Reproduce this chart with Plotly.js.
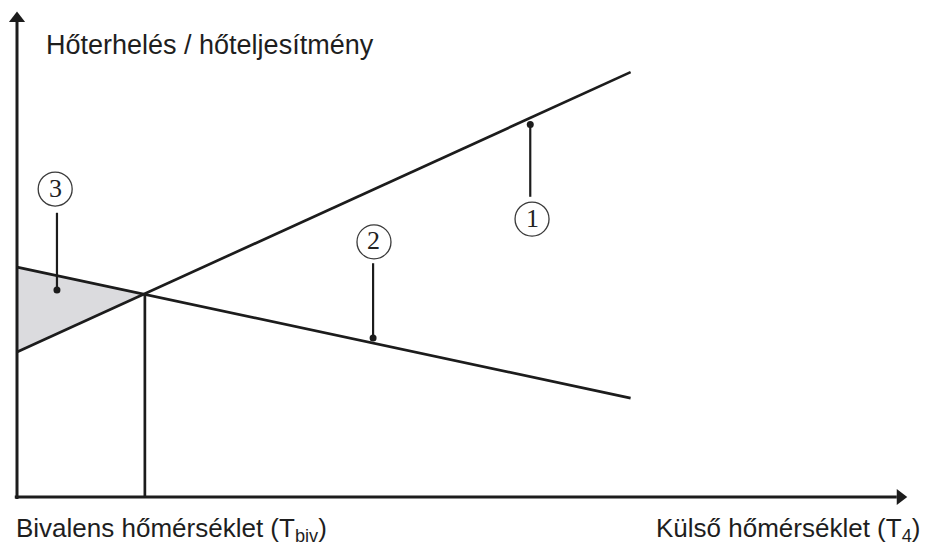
<!DOCTYPE html>
<html>
<head>
<meta charset="utf-8">
<script src="https://cdn.plot.ly/plotly-3.0.1.min.js"></script>
<style>html,body{margin:0;padding:0;background:#fff;}#chart{width:926px;height:549px;}</style>
</head>
<body>
<div id="chart"></div>
<script>
// ---- data (relative units: outdoor temperature on x, heat on y) ----
const lineX = [0, 69.1];              // outdoor temperature range of the two lines
const heatLoad = [29.9, 87.6];        // line 1
const heatPump = [47.4, 20.4];        // line 2
const biv = [14.4, 42.0];             // bivalent point (T_biv, heat)
const areaX = [0, 0, 14.4];           // region 3 (shaded triangle)
const areaY = [29.9, 47.4, 42.0];
const labelText = ['1', '2', '3'];
const labelDotX = [57.8, 40.1, 4.5];
const labelDotY = [76.8, 32.8, 42.7];
const labelEndY = [61.9, 48.2, 58.6];
const labelCircleX = [58.0, 40.2, 4.3];
const labelCircleY = [57.3, 52.6, 63.5];
const axisMax = [100.2, 100.0];        // arrow tips (x, y)
const yTitle = 'Hőterhelés / hőteljesítmény';
const xTitleLeft = 'Bivalens hőmérséklet (T<sub>biv</sub>)';
const xTitleRight = 'Külső hőmérséklet (T<sub>4</sub>)';

// ---- layout constants ----
const W = 926, H = 549, X0PX = 17, Y0PX = 497, SX = 8.88, SY = 4.85;
const INK = '#1c1c1c';
const SANS = 'Liberation Sans, Arial, sans-serif';
const SERIF = 'Liberation Serif, Times New Roman, serif';
const HEAD = 6.5; // arrow head length in px

const traces = [];
traces.push({x: areaX, y: areaY, mode: 'lines', fill: 'toself', fillcolor: '#dbdbde',
  line: {width: 0, color: 'rgba(0,0,0,0)'}, hoverinfo: 'skip'});
// axes with arrow heads
traces.push({x: [-0.25, axisMax[0] - 10 / SX], y: [0, 0], mode: 'lines', line: {color: INK, width: 3}});
traces.push({x: [0, 0], y: [-0.4, axisMax[1] - 10 / SY], mode: 'lines', line: {color: INK, width: 3}});
traces.push({x: [axisMax[0] - HEAD / SX], y: [0], mode: 'markers',
  marker: {symbol: 'triangle-right', size: 14, color: INK}});
traces.push({x: [0], y: [axisMax[1] - HEAD / SY], mode: 'markers',
  marker: {symbol: 'triangle-up', size: 14, color: INK}});
// lines
traces.push({x: lineX, y: heatLoad, mode: 'lines', line: {color: INK, width: 2.7}});
traces.push({x: lineX, y: heatPump, mode: 'lines', line: {color: INK, width: 2.7}});
traces.push({x: [biv[0], biv[0]], y: [0, biv[1]], mode: 'lines', line: {color: INK, width: 2.7}});
for (let i = 0; i < labelText.length; i++) {
  traces.push({x: [labelDotX[i], labelDotX[i]], y: [labelDotY[i], labelEndY[i]], mode: 'lines',
    line: {color: INK, width: 2.2}});
}
traces.push({x: labelDotX, y: labelDotY, mode: 'markers', marker: {color: INK, size: 7}});

const shapes = [];
const annotations = [];
for (let i = 0; i < labelText.length; i++) {
  shapes.push({type: 'circle', xref: 'x', yref: 'y', xsizemode: 'pixel', ysizemode: 'pixel',
    xanchor: labelCircleX[i], yanchor: labelCircleY[i], x0: -17, x1: 17, y0: -17, y1: 17,
    line: {color: '#3a3a3a', width: 1.3}});
  annotations.push({x: labelCircleX[i], y: labelCircleY[i], xref: 'x', yref: 'y', text: labelText[i],
    showarrow: false, xanchor: 'center', yanchor: 'middle', yshift: 1,
    font: {family: SERIF, size: 26, color: '#222'}});
}
// texts
annotations.push({xref: 'paper', yref: 'paper', x: 44 / W, y: 1 - 45 / H, xanchor: 'left', yanchor: 'middle',
  text: yTitle, showarrow: false, font: {family: SANS, size: 27, color: '#1e1e1e'}});
annotations.push({xref: 'paper', yref: 'paper', x: 14 / W, y: 1 - 529 / H, xanchor: 'left', yanchor: 'middle',
  text: xTitleLeft, showarrow: false, font: {family: SANS, size: 26, color: '#1e1e1e'}});
annotations.push({xref: 'paper', yref: 'paper', x: 922 / W, y: 1 - 529 / H, xanchor: 'right', yanchor: 'middle',
  text: xTitleRight, showarrow: false, font: {family: SANS, size: 26, color: '#1e1e1e'}});

const layout = {
  width: W, height: H, margin: {l: 0, r: 0, t: 0, b: 0, pad: 0},
  paper_bgcolor: '#fff', plot_bgcolor: '#fff', showlegend: false,
  xaxis: {range: [-X0PX / SX, (W - X0PX) / SX], visible: false, fixedrange: true},
  yaxis: {range: [(Y0PX - H) / SY, Y0PX / SY], visible: false, fixedrange: true},
  shapes: shapes, annotations: annotations, hovermode: false
};
Plotly.newPlot('chart', traces, layout, {staticPlot: true, displayModeBar: false});
</script>
</body>
</html>
